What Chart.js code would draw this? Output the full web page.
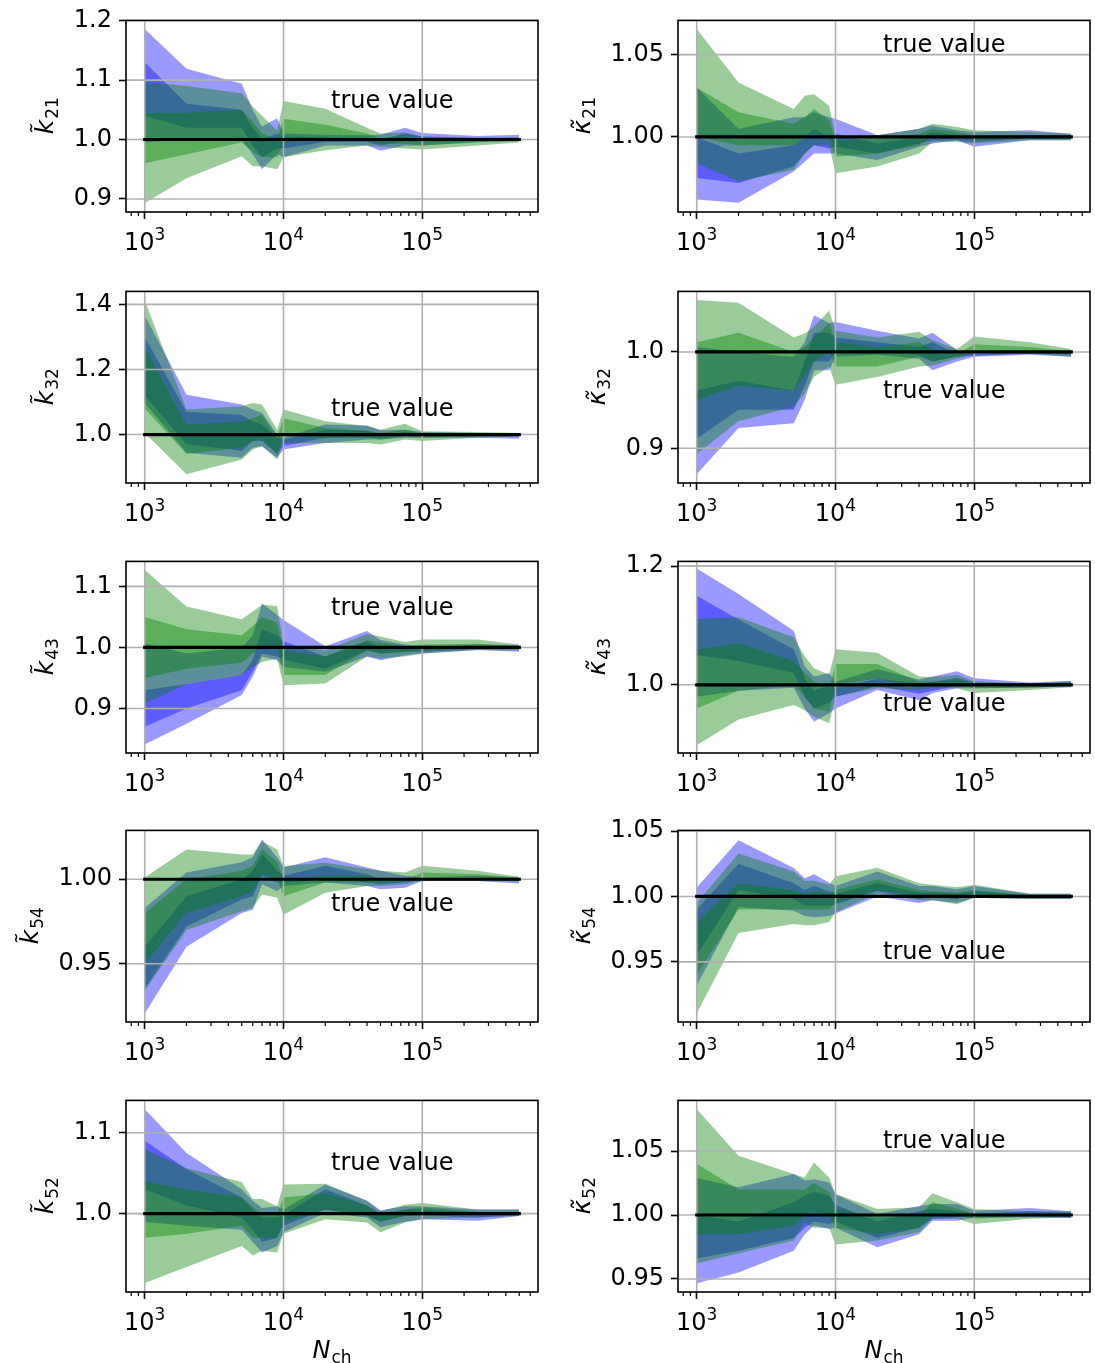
<!DOCTYPE html>
<html><head><meta charset="utf-8">
<script src="https://cdn.jsdelivr.net/npm/chart.js@4/dist/chart.umd.min.js"></script>
<style>
html,body{margin:0;padding:0;background:#fff;}
body{width:1095px;height:1363px;position:relative;overflow:hidden;}
canvas{position:absolute;}
</style>
</head><body>
<script>
// ---------------- data ----------------
const N_CH = [1e3, 2e3, 5e3, 6e3, 7e3, 9e3, 1e4, 2e4, 4e4, 5e4, 7.5e4, 1e5, 2.5e5, 5e5];
const TRUE_VALUE = 1.0;
const X_TICKS = [1e3, 1e4, 1e5];
const X_TICK_BASE = '10';
const X_TICK_EXPONENTS = ['3', '4', '5'];
const X_MINOR_TICKS = [800, 900, 2e3, 3e3, 4e3, 5e3, 6e3, 7e3, 8e3, 9e3, 2e4, 3e4, 4e4, 5e4, 6e4, 7e4, 8e4, 9e4, 2e5, 3e5, 4e5, 5e5, 6e5];
const TEXT_X = 2.2e4;

// k21 left
const K21L_B_OUT_HI = [1.186, 1.119, 1.094, 1.05, 1.022, 1.036, 1.01, 1.008, 1.007, 1.008, 1.02, 1.011, 1.006, 1.008];
const K21L_B_OUT_LO = [0.995, 1.0, 1.0, 0.975, 0.95, 0.975, 0.97, 0.99, 0.99, 0.981, 0.99, 0.99, 0.996, 0.997];
const K21L_B_IN_HI  = [1.13, 1.06, 1.05, 1.02, 1.0, 1.01, 1.005, 1.004, 1.003, 1.0, 1.01, 1.005, 1.003, 1.003];
const K21L_B_IN_LO  = [1.04, 1.02, 1.02, 0.99, 0.97, 0.985, 0.985, 0.996, 0.996, 0.99, 0.997, 0.996, 0.998, 0.998];
const K21L_G_OUT_HI = [1.097, 1.09, 1.078, 1.055, 1.04, 1.015, 1.065, 1.052, 1.02, 1.01, 1.012, 1.005, 1.003, 1.004];
const K21L_G_OUT_LO = [0.893, 0.935, 0.972, 0.955, 0.955, 0.95, 0.97, 0.982, 0.99, 0.988, 0.985, 0.983, 0.99, 0.995];
const K21L_G_IN_HI  = [1.045, 1.045, 1.05, 1.03, 1.01, 1.0, 1.035, 1.025, 1.01, 1.003, 1.005, 1.0, 1.0, 1.002];
const K21L_G_IN_LO  = [0.96, 0.975, 0.995, 0.98, 0.97, 0.97, 0.995, 1.0, 0.998, 0.993, 0.993, 0.99, 0.995, 0.998];
// k21 right
const K21R_B_OUT_HI = [1.03, 1.005, 1.012, 1.012, 1.015, 1.012, 1.011, 1.001, 1.005, 1.007, 1.004, 1.003, 1.004, 1.002];
const K21R_B_OUT_LO = [0.962, 0.96, 0.979, 0.985, 0.99, 0.99, 0.99, 0.986, 0.994, 0.996, 0.998, 0.994, 0.998, 0.998];
const K21R_B_IN_HI  = [1.0, 0.99, 0.995, 1.0, 1.005, 1.0, 1.002, 0.996, 1.0, 1.003, 1.001, 1.0, 1.001, 1.001];
const K21R_B_IN_LO  = [0.975, 0.972, 0.982, 0.99, 0.995, 0.993, 0.994, 0.99, 0.996, 0.998, 0.998, 0.997, 0.999, 0.999];
const K21R_G_OUT_HI = [1.0655, 1.033, 1.017, 1.025, 1.026, 1.019, 1.0, 1.001, 1.005, 1.008, 1.006, 1.004, 1.003, 1.002];
const K21R_G_OUT_LO = [0.984, 0.973, 0.98, 0.99, 0.995, 0.995, 0.978, 0.982, 0.99, 0.997, 0.997, 0.996, 0.998, 0.998];
const K21R_G_IN_HI  = [1.03, 1.015, 1.008, 1.012, 1.017, 1.01, 0.998, 0.999, 1.002, 1.005, 1.003, 1.001, 1.001, 1.001];
const K21R_G_IN_LO  = [1.0, 0.995, 0.995, 1.0, 1.002, 1.0, 0.988, 0.99, 0.995, 1.0, 1.0, 0.998, 0.999, 0.999];
// k32 left
const K32L_B_OUT_HI = [1.367, 1.122, 1.092, 1.077, 1.066, 1.0, 0.99, 1.031, 1.028, 1.013, 1.015, 1.008, 1.005, 1.005];
const K32L_B_OUT_LO = [1.097, 0.944, 0.929, 0.959, 0.964, 0.929, 0.954, 0.974, 0.985, 0.985, 0.99, 0.99, 0.99, 0.987];
const K32L_B_IN_HI  = [1.3, 1.07, 1.06, 1.04, 1.03, 0.99, 0.985, 1.015, 1.012, 1.0, 1.008, 1.003, 1.002, 1.002];
const K32L_B_IN_LO  = [1.12, 0.97, 0.95, 0.98, 0.98, 0.94, 0.965, 0.99, 0.992, 0.99, 0.995, 0.993, 0.995, 0.995];
const K32L_G_OUT_HI = [1.413, 1.077, 1.087, 1.097, 1.092, 1.015, 1.077, 1.041, 1.026, 1.015, 1.033, 1.01, 1.008, 1.005];
const K32L_G_OUT_LO = [1.005, 0.878, 0.923, 0.954, 0.964, 0.923, 0.974, 0.974, 0.974, 0.969, 0.985, 0.98, 0.99, 0.995];
const K32L_G_IN_HI  = [1.27, 1.03, 1.04, 1.05, 1.06, 0.99, 1.05, 1.02, 1.012, 1.005, 1.015, 1.003, 1.003, 1.002];
const K32L_G_IN_LO  = [1.08, 0.94, 0.96, 0.98, 0.985, 0.94, 0.995, 0.99, 0.99, 0.985, 0.995, 0.99, 0.995, 0.998];
// k32 right
const K32R_B_OUT_HI = [1.005, 1.0, 0.995, 1.01, 1.038, 1.03, 1.031, 1.022, 1.014, 1.02, 1.002, 0.998, 1.0, 1.0];
const K32R_B_OUT_LO = [0.873, 0.921, 0.926, 0.95, 0.981, 0.981, 0.995, 0.997, 0.993, 0.981, 0.99, 0.995, 0.997, 0.995];
const K32R_B_IN_HI  = [0.96, 0.97, 0.96, 0.99, 1.02, 1.02, 1.015, 1.01, 1.005, 1.01, 0.998, 0.998, 0.999, 0.999];
const K32R_B_IN_LO  = [0.91, 0.94, 0.94, 0.965, 0.99, 0.99, 1.0, 1.0, 0.997, 0.99, 0.995, 0.996, 0.998, 0.997];
const K32R_G_OUT_HI = [1.054, 1.051, 1.015, 1.019, 1.026, 1.043, 1.022, 1.015, 1.021, 1.012, 1.003, 1.016, 1.01, 1.003];
const K32R_G_OUT_LO = [0.894, 0.928, 0.943, 0.957, 0.974, 0.985, 0.966, 0.974, 0.985, 0.986, 0.993, 0.997, 0.998, 0.995];
const K32R_G_IN_HI  = [1.01, 1.02, 1.0, 1.005, 1.015, 1.03, 1.01, 1.005, 1.01, 1.003, 0.998, 1.008, 1.005, 1.001];
const K32R_G_IN_LO  = [0.95, 0.965, 0.96, 0.975, 0.99, 1.0, 0.985, 0.985, 0.995, 0.99, 0.995, 1.0, 1.0, 0.998];
// k43 left
const K43L_B_OUT_HI = [1.007, 0.99, 1.0, 1.02, 1.072, 1.053, 1.045, 1.002, 1.027, 1.012, 1.005, 1.0, 1.005, 1.004];
const K43L_B_OUT_LO = [0.841, 0.875, 0.922, 0.952, 0.985, 0.979, 0.968, 0.96, 0.985, 0.979, 0.987, 0.99, 0.996, 0.993];
const K43L_B_IN_HI  = [0.93, 0.94, 0.955, 0.98, 1.03, 1.02, 1.01, 0.985, 1.01, 1.0, 1.0, 0.997, 1.0, 1.0];
const K43L_B_IN_LO  = [0.87, 0.9, 0.93, 0.96, 0.99, 0.985, 0.98, 0.965, 0.995, 0.99, 0.993, 0.993, 0.997, 0.997];
const K43L_G_OUT_HI = [1.127, 1.067, 1.046, 1.059, 1.07, 1.068, 1.004, 0.995, 1.022, 1.018, 1.009, 1.013, 1.013, 1.005];
const K43L_G_OUT_LO = [0.908, 0.94, 0.955, 0.968, 0.976, 0.982, 0.938, 0.941, 0.985, 0.982, 0.985, 0.99, 0.996, 0.995];
const K43L_G_IN_HI  = [1.05, 1.03, 1.02, 1.035, 1.05, 1.04, 0.995, 0.985, 1.012, 1.008, 1.002, 1.005, 1.006, 1.002];
const K43L_G_IN_LO  = [0.95, 0.965, 0.975, 0.99, 1.0, 1.0, 0.955, 0.955, 0.995, 0.99, 0.992, 0.995, 0.999, 0.998];
// k43 right
const K43R_B_OUT_HI = [1.196, 1.153, 1.091, 1.031, 1.014, 1.02, 1.005, 1.026, 1.009, 1.014, 1.023, 1.011, 1.004, 1.007];
const K43R_B_OUT_LO = [0.98, 0.99, 0.995, 0.96, 0.9375, 0.952, 0.96, 0.991, 0.974, 0.986, 0.994, 0.994, 0.995, 0.997];
const K43R_B_IN_HI  = [1.15, 1.11, 1.06, 1.01, 0.99, 1.0, 0.995, 1.01, 1.002, 1.005, 1.012, 1.004, 1.002, 1.004];
const K43R_B_IN_LO  = [1.05, 1.04, 1.02, 0.98, 0.96, 0.97, 0.98, 0.998, 0.985, 0.99, 0.998, 0.998, 0.998, 0.999];
const K43R_G_OUT_HI = [1.111, 1.114, 1.08, 1.048, 1.028, 1.017, 1.06, 1.054, 1.014, 1.013, 1.017, 1.006, 1.002, 1.006];
const K43R_G_OUT_LO = [0.898, 0.9415, 0.966, 0.957, 0.946, 0.935, 0.98, 0.994, 0.991, 0.994, 0.994, 0.986, 0.991, 0.996];
const K43R_G_IN_HI  = [1.06, 1.07, 1.04, 1.02, 1.005, 0.995, 1.035, 1.035, 1.005, 1.005, 1.008, 1.002, 1.001, 1.004];
const K43R_G_IN_LO  = [0.96, 0.99, 1.0, 0.98, 0.96, 0.955, 1.0, 1.01, 0.995, 0.998, 1.0, 0.994, 0.995, 0.998];
// k54 left
const K54L_B_OUT_HI = [0.983, 1.004, 1.01, 1.013, 1.0235, 1.013, 1.007, 1.013, 1.007, 1.005, 1.002, 1.001, 1.002, 1.001];
const K54L_B_OUT_LO = [0.9206, 0.96, 0.98, 0.982, 0.997, 0.993, 0.996, 0.998, 0.996, 0.994, 0.995, 0.999, 0.999, 0.9975];
const K54L_B_IN_HI  = [0.96, 0.99, 1.0, 1.005, 1.015, 1.005, 1.002, 1.008, 1.003, 1.0, 1.0, 1.0, 1.0, 1.0];
const K54L_B_IN_LO  = [0.935, 0.972, 0.988, 0.99, 1.002, 0.998, 0.998, 1.0, 0.998, 0.997, 0.998, 0.9995, 0.9995, 0.999];
const K54L_G_OUT_HI = [1.001, 1.0176, 1.0147, 1.0147, 1.0225, 1.0176, 1.0078, 1.0098, 1.006, 1.005, 1.004, 1.008, 1.005, 1.0014];
const K54L_G_OUT_LO = [0.934, 0.97, 0.981, 0.983, 0.991, 0.989, 0.979, 0.992, 0.996, 0.996, 0.997, 0.999, 0.999, 0.9986];
const K54L_G_IN_HI  = [0.98, 1.0, 1.005, 1.008, 1.018, 1.01, 1.0, 1.002, 1.002, 1.0, 1.0, 1.004, 1.003, 1.001];
const K54L_G_IN_LO  = [0.95, 0.98, 0.99, 0.993, 1.003, 1.0, 0.99, 0.998, 0.998, 0.998, 0.999, 1.001, 1.001, 0.999];
// k54 right
const K54R_B_OUT_HI = [1.0068, 1.043, 1.0218, 1.014, 1.017, 1.0105, 1.008, 1.019, 1.008, 1.008, 1.0055, 1.008, 1.002, 1.002];
const K54R_B_OUT_LO = [0.932, 0.992, 0.989, 0.985, 0.984, 0.985, 0.987, 1.0, 0.995, 0.997, 0.995, 0.999, 0.998, 0.998];
const K54R_B_IN_HI  = [0.99, 1.025, 1.01, 1.005, 1.008, 1.004, 1.002, 1.01, 1.003, 1.003, 1.002, 1.004, 1.001, 1.001];
const K54R_B_IN_LO  = [0.955, 1.005, 0.998, 0.993, 0.993, 0.993, 0.994, 1.004, 0.998, 0.999, 0.998, 1.001, 0.999, 0.999];
const K54R_G_OUT_HI = [0.995, 1.033, 1.019, 1.012, 1.012, 1.009, 1.0155, 1.022, 1.01, 1.009, 1.007, 1.009, 1.002, 1.002];
const K54R_G_OUT_LO = [0.9105, 0.972, 0.979, 0.978, 0.978, 0.9805, 0.988, 1.002, 0.997, 0.997, 0.994, 0.999, 0.998, 0.998];
const K54R_G_IN_HI  = [0.98, 1.01, 1.005, 1.002, 1.004, 1.002, 1.005, 1.013, 1.005, 1.004, 1.003, 1.005, 1.001, 1.001];
const K54R_G_IN_LO  = [0.94, 0.99, 0.99, 0.99, 0.99, 0.99, 0.995, 1.005, 1.0, 1.0, 0.998, 1.002, 0.999, 0.999];
// k52 left
const K52L_B_OUT_HI = [1.129, 1.075, 1.03, 1.016, 1.007, 1.009, 1.005, 1.036, 1.016, 1.004, 1.009, 1.009, 1.005, 1.005];
const K52L_B_OUT_LO = [0.99, 0.985, 0.98, 0.965, 0.952, 0.96, 0.977, 1.001, 0.995, 0.983, 0.99, 0.993, 0.991, 0.997];
const K52L_B_IN_HI  = [1.09, 1.055, 1.02, 1.005, 0.995, 0.995, 0.998, 1.03, 1.01, 1.0, 1.005, 1.005, 1.002, 1.002];
const K52L_B_IN_LO  = [1.03, 1.01, 0.995, 0.98, 0.965, 0.97, 0.985, 1.005, 0.998, 0.99, 0.997, 0.998, 0.995, 0.998];
const K52L_G_OUT_HI = [1.08, 1.056, 1.039, 1.018, 1.018, 1.009, 1.036, 1.037, 1.016, 1.003, 1.011, 1.013, 1.005, 1.005];
const K52L_G_OUT_LO = [0.914, 0.934, 0.96, 0.948, 0.954, 0.952, 0.975, 0.993, 0.989, 0.977, 0.989, 0.993, 0.995, 0.997];
const K52L_G_IN_HI  = [1.04, 1.03, 1.02, 1.008, 1.0, 1.0, 1.02, 1.025, 1.01, 0.998, 1.005, 1.008, 1.002, 1.002];
const K52L_G_IN_LO  = [0.97, 0.975, 0.985, 0.97, 0.97, 0.97, 0.99, 1.005, 0.997, 0.99, 0.997, 0.998, 0.998, 0.999];
// k52 right
const K52R_B_OUT_HI = [1.029, 1.0216, 1.032, 1.027, 1.028, 1.0255, 1.0164, 1.0008, 1.007, 1.0086, 1.0086, 1.0034, 1.0055, 1.003];
const K52R_B_OUT_LO = [0.9466, 0.955, 0.972, 0.985, 0.9917, 0.989, 0.99, 0.9747, 0.985, 0.9956, 0.9956, 0.998, 0.998, 0.9977];
const K52R_B_IN_HI  = [1.0, 0.995, 1.01, 1.015, 1.018, 1.015, 1.008, 0.995, 1.003, 1.005, 1.003, 1.001, 1.003, 1.002];
const K52R_B_IN_LO  = [0.966, 0.972, 0.982, 0.99, 0.995, 0.993, 0.995, 0.982, 0.99, 0.997, 0.998, 0.999, 0.999, 0.998];
const K52R_G_OUT_HI = [1.0828, 1.0464, 1.032, 1.0294, 1.041, 1.0294, 1.0164, 1.0047, 1.006, 1.017, 1.0099, 1.0047, 1.003, 1.003];
const K52R_G_OUT_LO = [0.962, 0.97, 0.98, 0.994, 0.99, 0.99, 0.977, 0.98, 0.9865, 0.997, 0.997, 0.993, 0.997, 0.998];
const K52R_G_IN_HI  = [1.04, 1.02, 1.02, 1.02, 1.025, 1.018, 1.005, 0.998, 1.0, 1.01, 1.005, 1.001, 1.001, 1.001];
const K52R_G_IN_LO  = [0.985, 0.985, 0.992, 1.0, 1.003, 1.0, 0.99, 0.985, 0.99, 1.0, 1.0, 0.997, 0.999, 0.999];

// y tick values per panel
const YT_K21L = [0.9, 1.0, 1.1, 1.2];
const YT_K21R = [1.00, 1.05];
const YT_K32L = [1.0, 1.2, 1.4];
const YT_K32R = [0.9, 1.0];
const YT_K43L = [0.9, 1.0, 1.1];
const YT_K43R = [1.0, 1.2];
const YT_K54L = [0.95, 1.00];
const YT_K54R = [0.95, 1.00, 1.05];
const YT_K52L = [1.0, 1.1];
const YT_K52R = [0.95, 1.00, 1.05];

// panel table (built from the arrays above)
const PANELS = [
  {row:0, col:0, sym:'k', sub:'21', yt:YT_K21L, dec:1, ymin:0.878, ymax:1.2005, ty:1.063,
   b:[K21L_B_OUT_HI,K21L_B_OUT_LO,K21L_B_IN_HI,K21L_B_IN_LO], g:[K21L_G_OUT_HI,K21L_G_OUT_LO,K21L_G_IN_HI,K21L_G_IN_LO]},
  {row:0, col:1, sym:'κ', sub:'21', yt:YT_K21R, dec:2, ymin:0.9544, ymax:1.0708, ty:1.0554,
   b:[K21R_B_OUT_HI,K21R_B_OUT_LO,K21R_B_IN_HI,K21R_B_IN_LO], g:[K21R_G_OUT_HI,K21R_G_OUT_LO,K21R_G_IN_HI,K21R_G_IN_LO]},
  {row:1, col:0, sym:'k', sub:'32', yt:YT_K32L, dec:1, ymin:0.851, ymax:1.44, ty:1.076,
   b:[K32L_B_OUT_HI,K32L_B_OUT_LO,K32L_B_IN_HI,K32L_B_IN_LO], g:[K32L_G_OUT_HI,K32L_G_OUT_LO,K32L_G_IN_HI,K32L_G_IN_LO]},
  {row:1, col:1, sym:'κ', sub:'32', yt:YT_K32R, dec:1, ymin:0.864, ymax:1.0628, ty:0.959,
   b:[K32R_B_OUT_HI,K32R_B_OUT_LO,K32R_B_IN_HI,K32R_B_IN_LO], g:[K32R_G_OUT_HI,K32R_G_OUT_LO,K32R_G_IN_HI,K32R_G_IN_LO]},
  {row:2, col:0, sym:'k', sub:'43', yt:YT_K43L, dec:1, ymin:0.827, ymax:1.141, ty:1.064,
   b:[K43L_B_OUT_HI,K43L_B_OUT_LO,K43L_B_IN_HI,K43L_B_IN_LO], g:[K43L_G_OUT_HI,K43L_G_OUT_LO,K43L_G_IN_HI,K43L_G_IN_LO]},
  {row:2, col:1, sym:'κ', sub:'43', yt:YT_K43R, dec:1, ymin:0.885, ymax:1.208, ty:0.966,
   b:[K43R_B_OUT_HI,K43R_B_OUT_LO,K43R_B_IN_HI,K43R_B_IN_LO], g:[K43R_G_OUT_HI,K43R_G_OUT_LO,K43R_G_IN_HI,K43R_G_IN_LO]},
  {row:3, col:0, sym:'k', sub:'54', yt:YT_K54L, dec:2, ymin:0.9155, ymax:1.0289, ty:0.985,
   b:[K54L_B_OUT_HI,K54L_B_OUT_LO,K54L_B_IN_HI,K54L_B_IN_LO], g:[K54L_G_OUT_HI,K54L_G_OUT_LO,K54L_G_IN_HI,K54L_G_IN_LO]},
  {row:3, col:1, sym:'κ', sub:'54', yt:YT_K54R, dec:2, ymin:0.904, ymax:1.0505, ty:0.957,
   b:[K54R_B_OUT_HI,K54R_B_OUT_LO,K54R_B_IN_HI,K54R_B_IN_LO], g:[K54R_G_OUT_HI,K54R_G_OUT_LO,K54R_G_IN_HI,K54R_G_IN_LO]},
  {row:4, col:0, sym:'k', sub:'52', yt:YT_K52L, dec:1, ymin:0.903, ymax:1.14, ty:1.062,
   b:[K52L_B_OUT_HI,K52L_B_OUT_LO,K52L_B_IN_HI,K52L_B_IN_LO], g:[K52L_G_OUT_HI,K52L_G_OUT_LO,K52L_G_IN_HI,K52L_G_IN_LO]},
  {row:4, col:1, sym:'κ', sub:'52', yt:YT_K52R, dec:2, ymin:0.9398, ymax:1.0896, ty:1.057,
   b:[K52R_B_OUT_HI,K52R_B_OUT_LO,K52R_B_IN_HI,K52R_B_IN_LO], g:[K52R_G_OUT_HI,K52R_G_OUT_LO,K52R_G_IN_HI,K52R_G_IN_LO]},
];

// ---------------- layout / style ----------------
const FONT = '"DejaVu Sans", "Liberation Sans", sans-serif';
const BLUE = 'rgba(0,0,255,0.4)';
const GREEN = 'rgba(0,128,0,0.4)';
const ROW_TOPS = [19, 290, 560, 829, 1099];
const AREA_H = 193;
const PAD_TOP = 20;
const XAXIS_H = 75;
const COLS = [
  {left: 0,   width: 548, yAxisW: 126, padRight: 10},
  {left: 548, width: 547, yAxisW: 130, padRight: 5}
];
const X_MIN = Math.pow(10, 2.865), X_MAX = Math.pow(10, 5.834);

Chart.defaults.color = '#000';
Chart.defaults.font.family = FONT;

function pts(arr) { return N_CH.map((x, i) => ({x: x, y: arr[i]})); }

function bandSets(hi, lo, color, order) {
  const base = {borderColor: 'rgba(0,0,0,0)', borderWidth: 0, pointRadius: 0, pointHoverRadius: 0, tension: 0, order: order};
  return [
    Object.assign({}, base, {data: pts(hi), fill: '+1', backgroundColor: color}),
    Object.assign({}, base, {data: pts(lo), fill: false, backgroundColor: 'rgba(0,0,0,0)'})
  ];
}

function line(ctx, x1, y1, x2, y2) { ctx.beginPath(); ctx.moveTo(x1, y1); ctx.lineTo(x2, y2); ctx.stroke(); }

function makePlugin(p, lineIndex) {
  return {
    id: 'decor',
    beforeDatasetDraw(chart, args) {
      if (args.index !== lineIndex) return;
      const {ctx, chartArea: a, scales: {x, y}} = chart;
      ctx.save();
      ctx.strokeStyle = '#b0b0b0';
      ctx.lineWidth = 1.6;
      x.ticks.forEach(t => { const px = x.getPixelForValue(t.value); line(ctx, px, a.top, px, a.bottom); });
      y.ticks.forEach(t => { const py = y.getPixelForValue(t.value); line(ctx, a.left, py, a.right, py); });
      ctx.restore();
    },
    afterDraw(chart) {
      const {ctx, chartArea: a, scales: {x, y}} = chart;
      ctx.save();
      // minor ticks
      ctx.strokeStyle = '#000';
      ctx.lineWidth = 1.2;
      X_MINOR_TICKS.forEach(v => {
        if (v < x.min || v > x.max) return;
        const px = x.getPixelForValue(v);
        line(ctx, px, a.bottom, px, a.bottom + 4);
      });
      // frame
      ctx.lineWidth = 1.6;
      ctx.strokeRect(a.left, a.top, a.right - a.left, a.bottom - a.top);
      ctx.fillStyle = '#000';
      // x tick labels: 10 with raised exponent
      ctx.textBaseline = 'alphabetic';
      ctx.textAlign = 'left';
      x.ticks.forEach((t, i) => {
        const px = x.getPixelForValue(t.value);
        ctx.font = '24px ' + FONT;
        const wb = ctx.measureText(X_TICK_BASE).width;
        ctx.font = '17px ' + FONT;
        const we = ctx.measureText(X_TICK_EXPONENTS[i]).width;
        const s = px - (wb + we) / 2;
        const by = a.bottom + 38;
        ctx.font = '24px ' + FONT;
        ctx.fillText(X_TICK_BASE, s, by);
        ctx.font = '17px ' + FONT;
        ctx.fillText(X_TICK_EXPONENTS[i], s + wb, by - 10);
      });
      // annotation
      ctx.font = '24px ' + FONT;
      ctx.textBaseline = 'middle';
      ctx.fillText('true value', x.getPixelForValue(TEXT_X), y.getPixelForValue(p.ty));
      // y label
      ctx.font = '24px ' + FONT;
      let maxW = 0;
      y.ticks.forEach(t => { maxW = Math.max(maxW, ctx.measureText(String(t.label)).width); });
      const bx = a.left - 14 - maxW - 21;
      const cy = (a.top + a.bottom) / 2;
      ctx.save();
      ctx.translate(bx, cy);
      ctx.rotate(-Math.PI / 2);
      ctx.textBaseline = 'alphabetic';
      const main = p.sym + '\u0303';
      ctx.font = 'italic 25px ' + FONT;
      const w1 = ctx.measureText(p.sym).width;
      ctx.font = '17px ' + FONT;
      const w2 = ctx.measureText(p.sub).width;
      const start = -(w1 + w2) / 2;
      ctx.font = 'italic 25px ' + FONT;
      ctx.fillText(main, start, 0);
      ctx.font = '17px ' + FONT;
      ctx.fillText(p.sub, start + w1 + 1, 5);
      ctx.restore();
      // x label on bottom row
      if (p.row === 4) {
        ctx.textBaseline = 'alphabetic';
        ctx.font = 'italic 24px ' + FONT;
        const wN = ctx.measureText('N').width;
        ctx.font = '17px ' + FONT;
        const wc = ctx.measureText('ch').width;
        const cx = (a.left + a.right) / 2;
        const s = cx - (wN + wc + 1) / 2;
        const by = a.bottom + 66;
        ctx.font = 'italic 24px ' + FONT;
        ctx.fillText('N', s, by);
        ctx.font = '17px ' + FONT;
        ctx.fillText('ch', s + wN + 1, by + 5);
      }
      ctx.restore();
    }
  };
}

PANELS.forEach(p => {
  const col = COLS[p.col];
  const cv = document.createElement('canvas');
  const H = PAD_TOP + AREA_H + XAXIS_H;
  cv.width = col.width; cv.height = H;
  cv.style.left = col.left + 'px';
  cv.style.top = (ROW_TOPS[p.row] - PAD_TOP) + 'px';
  cv.style.width = col.width + 'px'; cv.style.height = H + 'px';
  document.body.appendChild(cv);

  const datasets = []
    .concat(bandSets(p.b[0], p.b[1], BLUE, 40))
    .concat(bandSets(p.b[2], p.b[3], BLUE, 30))
    .concat(bandSets(p.g[0], p.g[1], GREEN, 20))
    .concat(bandSets(p.g[2], p.g[3], GREEN, 10));
  const lineIndex = datasets.length;
  datasets.push({
    data: N_CH.map(x => ({x: x, y: TRUE_VALUE})),
    borderColor: '#000', borderWidth: 3.2, pointRadius: 0, pointHoverRadius: 0,
    fill: false, tension: 0, order: 0, borderCapStyle: 'square'
  });

  new Chart(cv, {
    type: 'line',
    data: {datasets: datasets},
    options: {
      responsive: false,
      animation: false,
      devicePixelRatio: 1,
      events: [],
      layout: {padding: {top: PAD_TOP, right: col.padRight, left: 0, bottom: 0}},
      plugins: {legend: {display: false}, tooltip: {enabled: false}, filler: {drawTime: 'beforeDatasetDraw'}},
      scales: {
        x: {
          type: 'logarithmic', min: X_MIN, max: X_MAX,
          border: {display: false},
          grid: {drawOnChartArea: false, drawTicks: true, tickLength: 7, tickWidth: 1.6, tickColor: '#000', color: 'rgba(0,0,0,0)'},
          ticks: {display: false, autoSkip: false},
          afterBuildTicks: s => { s.ticks = X_TICKS.map(v => ({value: v})); },
          afterFit: s => { s.height = XAXIS_H; }
        },
        y: {
          type: 'linear', min: p.ymin, max: p.ymax,
          border: {display: false},
          grid: {drawOnChartArea: false, drawTicks: true, tickLength: 7, tickWidth: 1.6, tickColor: '#000', color: 'rgba(0,0,0,0)'},
          ticks: {font: {family: FONT, size: 24}, color: '#000', padding: 7, autoSkip: false,
                  callback: v => Number(v).toFixed(p.dec)},
          afterBuildTicks: s => { s.ticks = p.yt.map(v => ({value: v})); },
          afterFit: s => { s.width = col.yAxisW; }
        }
      }
    },
    plugins: [makePlugin(p, lineIndex)]
  });
});
</script>
</body></html>
